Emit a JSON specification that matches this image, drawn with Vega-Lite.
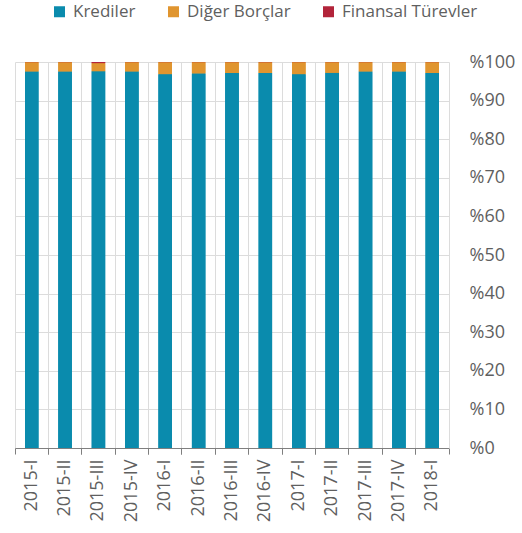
{
  "$schema": "https://vega.github.io/schema/vega-lite/v6.json",
  "width": 434,
  "height": 386,
  "padding": {"left": 14, "top": 3, "right": 0, "bottom": 0},
  "background": "white",
  "config": {
    "view": {"stroke": null},
    "font": "Open Sans",
    "axis": {"labelFont": "Open Sans", "labelColor": "#5f5f5f", "gridColor": "#dcdcdc", "gridWidth": 1},
    "legend": {"labelFont": "Open Sans"}
  },
  "data": {
    "values": [
      {"period": "2015-I", "series": "Krediler", "value": 97.55, "ord": 1},
      {"period": "2015-I", "series": "Diğer Borçlar", "value": 2.4, "ord": 2},
      {"period": "2015-I", "series": "Finansal Türevler", "value": 0.05, "ord": 3},
      {"period": "2015-II", "series": "Krediler", "value": 97.55, "ord": 1},
      {"period": "2015-II", "series": "Diğer Borçlar", "value": 2.4, "ord": 2},
      {"period": "2015-II", "series": "Finansal Türevler", "value": 0.05, "ord": 3},
      {"period": "2015-III", "series": "Krediler", "value": 97.6, "ord": 1},
      {"period": "2015-III", "series": "Diğer Borçlar", "value": 2.1, "ord": 2},
      {"period": "2015-III", "series": "Finansal Türevler", "value": 0.3, "ord": 3},
      {"period": "2015-IV", "series": "Krediler", "value": 97.55, "ord": 1},
      {"period": "2015-IV", "series": "Diğer Borçlar", "value": 2.4, "ord": 2},
      {"period": "2015-IV", "series": "Finansal Türevler", "value": 0.05, "ord": 3},
      {"period": "2016-I", "series": "Krediler", "value": 96.85, "ord": 1},
      {"period": "2016-I", "series": "Diğer Borçlar", "value": 3.1, "ord": 2},
      {"period": "2016-I", "series": "Finansal Türevler", "value": 0.05, "ord": 3},
      {"period": "2016-II", "series": "Krediler", "value": 97.05, "ord": 1},
      {"period": "2016-II", "series": "Diğer Borçlar", "value": 2.9, "ord": 2},
      {"period": "2016-II", "series": "Finansal Türevler", "value": 0.05, "ord": 3},
      {"period": "2016-III", "series": "Krediler", "value": 97.15, "ord": 1},
      {"period": "2016-III", "series": "Diğer Borçlar", "value": 2.8, "ord": 2},
      {"period": "2016-III", "series": "Finansal Türevler", "value": 0.05, "ord": 3},
      {"period": "2016-IV", "series": "Krediler", "value": 97.15, "ord": 1},
      {"period": "2016-IV", "series": "Diğer Borçlar", "value": 2.8, "ord": 2},
      {"period": "2016-IV", "series": "Finansal Türevler", "value": 0.05, "ord": 3},
      {"period": "2017-I", "series": "Krediler", "value": 96.85, "ord": 1},
      {"period": "2017-I", "series": "Diğer Borçlar", "value": 3.1, "ord": 2},
      {"period": "2017-I", "series": "Finansal Türevler", "value": 0.05, "ord": 3},
      {"period": "2017-II", "series": "Krediler", "value": 97.2, "ord": 1},
      {"period": "2017-II", "series": "Diğer Borçlar", "value": 2.75, "ord": 2},
      {"period": "2017-II", "series": "Finansal Türevler", "value": 0.05, "ord": 3},
      {"period": "2017-III", "series": "Krediler", "value": 97.55, "ord": 1},
      {"period": "2017-III", "series": "Diğer Borçlar", "value": 2.4, "ord": 2},
      {"period": "2017-III", "series": "Finansal Türevler", "value": 0.05, "ord": 3},
      {"period": "2017-IV", "series": "Krediler", "value": 97.55, "ord": 1},
      {"period": "2017-IV", "series": "Diğer Borçlar", "value": 2.4, "ord": 2},
      {"period": "2017-IV", "series": "Finansal Türevler", "value": 0.05, "ord": 3},
      {"period": "2018-I", "series": "Krediler", "value": 97.15, "ord": 1},
      {"period": "2018-I", "series": "Diğer Borçlar", "value": 2.8, "ord": 2},
      {"period": "2018-I", "series": "Finansal Türevler", "value": 0.05, "ord": 3}
    ]
  },
  "encoding": {
    "y": {
      "field": "value", "type": "quantitative", "stack": "zero",
      "scale": {"domain": [0, 100]},
      "axis": {
        "orient": "right", "title": null, "values": [0,10,20,30,40,50,60,70,80,90,100],
        "labelExpr": "'%' + datum.value", "labelFontSize": 18, "labelPadding": 20,
        "domain": true, "domainColor": "#dcdcdc", "ticks": false, "grid": true
      }
    },
    "color": {
      "field": "series", "type": "nominal",
      "scale": {"domain": ["Krediler", "Diğer Borçlar", "Finansal Türevler"], "range": ["#0A8BAD", "#E0952F", "#B2243A"]},
      "legend": {
        "orient": "none", "legendX": 36, "legendY": -59, "direction": "horizontal", "title": null,
        "symbolType": "square", "symbolSize": 121, "symbolStrokeWidth": 0, "labelFontSize": 17,
        "labelColor": "#5f5f5f", "columnPadding": 29, "labelOffset": 5
      }
    },
    "order": {"field": "ord", "type": "quantitative"}
  },
  "layer": [
    {
      "mark": {"type": "bar", "width": {"band": 0.4}},
      "encoding": {
        "x": {
          "field": "period", "type": "nominal", "sort": null,
          "scale": {"paddingInner": 0, "paddingOuter": 0},
          "axis": {
            "orient": "bottom", "title": null, "labels": false, "ticks": true, "domain": true,
            "bandPosition": 0, "grid": true, "domainColor": "#7f7f7f", "tickColor": "#7f7f7f", "tickSize": 6
          }
        }
      }
    },
    {
      "mark": {"type": "bar", "width": {"band": 0.4}},
      "encoding": {
        "x": {
          "field": "period", "type": "nominal", "sort": null,
          "axis": {
            "orient": "bottom", "title": null, "labels": false, "ticks": true, "domain": false,
            "bandPosition": 1, "grid": false, "tickColor": "#7f7f7f", "tickSize": 6
          }
        }
      }
    },
    {
      "mark": {"type": "bar", "width": {"band": 0.4}},
      "encoding": {
        "x": {
          "field": "period", "type": "nominal", "sort": null,
          "axis": {
            "orient": "bottom", "title": null, "labelAngle": -90, "labelFontSize": 18, "labelPadding": 11,
            "ticks": false, "domain": false, "grid": false, "labelAlign": "right", "labelBaseline": "middle"
          }
        }
      }
    }
  ],
  "resolve": {"axis": {"x": "independent"}}
}
